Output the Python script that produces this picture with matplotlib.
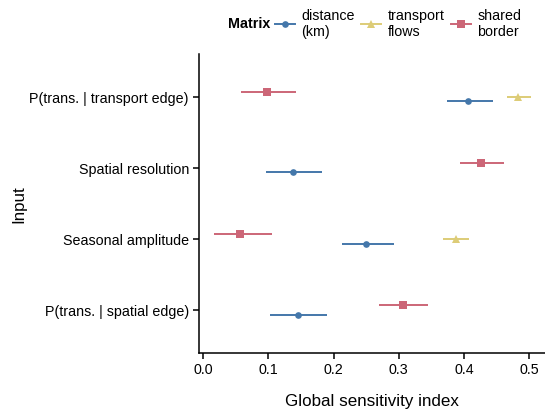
import matplotlib.pyplot as plt
from matplotlib.lines import Line2D
import numpy as np

plt.rcParams['font.family'] = ['Liberation Sans', 'DejaVu Sans']

inputs = ["P(trans. | spatial edge)", "Seasonal amplitude",
          "Spatial resolution", "P(trans. | transport edge)"]

# per matrix: estimate, lower, upper (NaN = not shown)
dist_est = [0.145, 0.250, 0.137, 0.406]
dist_lo = [0.103, 0.213, 0.097, 0.374]
dist_hi = [0.190, 0.292, 0.182, 0.445]

flow_est = [np.nan, 0.387, np.nan, 0.483]
flow_lo = [np.nan, 0.367, np.nan, 0.466]
flow_hi = [np.nan, 0.408, np.nan, 0.502]

border_est = [0.306, 0.057, 0.426, 0.098]
border_lo = [0.270, 0.017, 0.394, 0.058]
border_hi = [0.344, 0.105, 0.461, 0.142]

series = [
    ("distance\n(km)", dist_est, dist_lo, dist_hi, "#4477AA", "o", 4.8, -0.066),
    ("transport\nflows", flow_est, flow_lo, flow_hi, "#DDCC77", "^", 5.5, 0.0),
    ("shared\nborder", border_est, border_lo, border_hi, "#CC6677", "s", 5.3, 0.066),
]

fig = plt.figure(figsize=(5.45, 4.14), dpi=100)
ax = fig.add_axes([0.3644, 0.146, 0.6356, 0.721])

y = np.arange(len(inputs))
handles = []
for name, est, lo, hi, col, mk, ms, off in series:
    est = np.array(est); lo = np.array(lo); hi = np.array(hi)
    ax.errorbar(est, y + off, xerr=[est - lo, hi - est], fmt=mk, color=col,
                ms=ms, elinewidth=1.4, capsize=0, mew=0)
    handles.append(Line2D([], [], color=col, marker=mk, ms=ms, lw=1.4, mew=0))

ax.set_yticks(y)
ax.set_yticklabels(inputs)
ax.set_ylim(-0.6, 3.6)
ax.set_xlim(-0.007, 0.524)
ax.set_xticks([0.0, 0.1, 0.2, 0.3, 0.4, 0.5])
ax.set_xticklabels(["0.0", "0.1", "0.2", "0.3", "0.4", "0.5"])

for s in ["top", "right"]:
    ax.spines[s].set_visible(False)
for s in ["left", "bottom"]:
    ax.spines[s].set_linewidth(1.1)
ax.tick_params(labelsize=10.25, length=4, width=1.1, colors="black", pad=3)

ax.set_xlabel("Global sensitivity index", fontsize=12.25, labelpad=12)
ax.set_ylabel("Input", fontsize=12.25, labelpad=2)

fig.text(0.418, 0.942, "Matrix", fontsize=10.25, fontweight="bold", va="center")
fig.legend(handles, [s[0] for s in series], loc="center left",
           bbox_to_anchor=(0.505, 0.942), ncol=3, frameon=False, fontsize=10.25,
           handlelength=1.4, handletextpad=0.45, columnspacing=0.45,
           borderpad=0, borderaxespad=0, labelspacing=0)

fig.savefig("out.png", dpi=100)
